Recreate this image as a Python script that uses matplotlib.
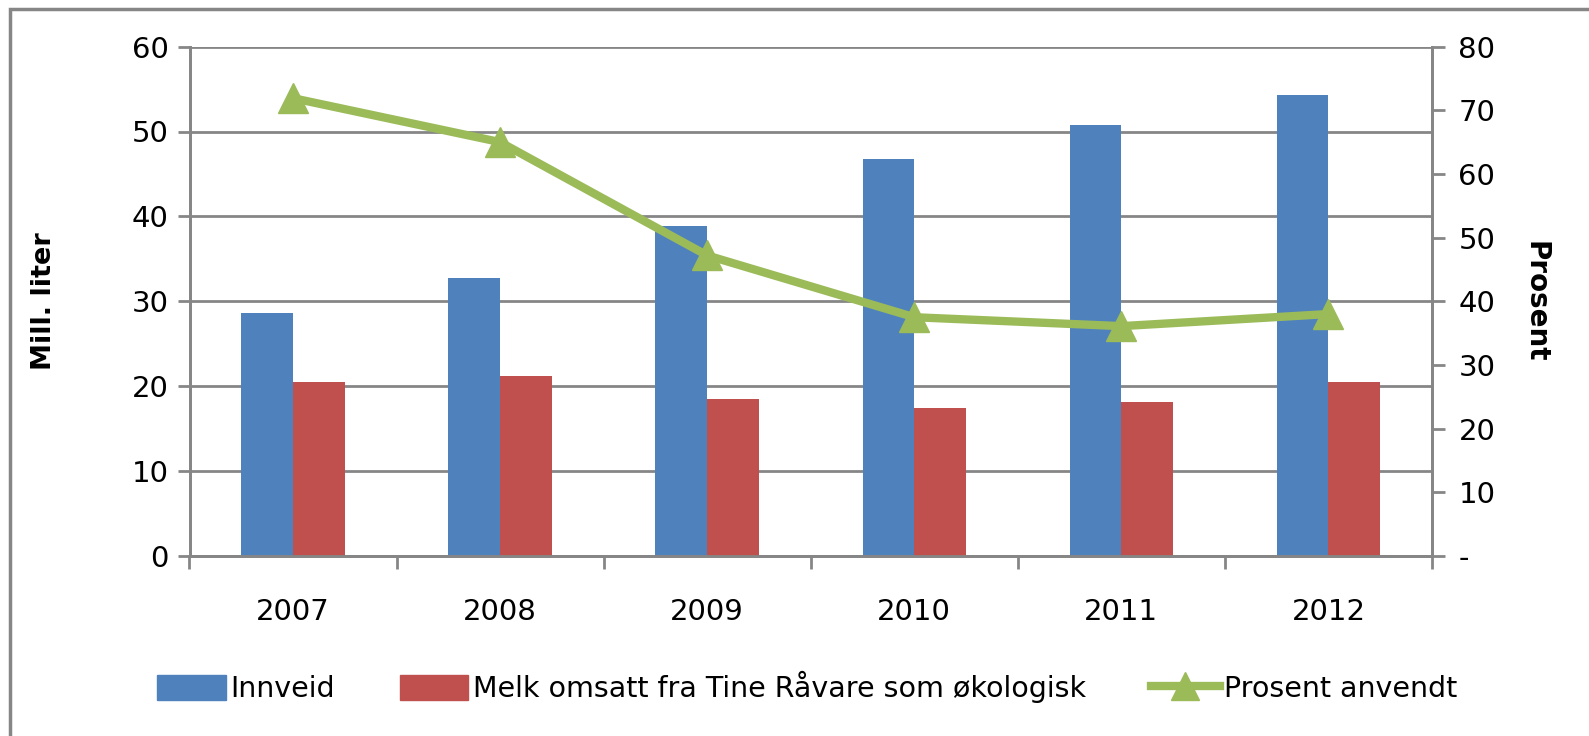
import matplotlib
matplotlib.use("Agg")
import matplotlib.pyplot as plt
import numpy as np
from matplotlib.lines import Line2D

years = ["2007", "2008", "2009", "2010", "2011", "2012"]
innveid = [28.6, 32.8, 38.9, 46.8, 50.8, 54.3]
melk = [20.5, 21.2, 18.5, 17.4, 18.1, 20.5]
prosent = [71.9, 65.0, 47.2, 37.5, 36.1, 38.0]
left_ticks = [0, 10, 20, 30, 40, 50, 60]
right_ticks = [0, 10, 20, 30, 40, 50, 60, 70, 80]
right_labels = ["-", "10", "20", "30", "40", "50", "60", "70", "80"]

BLUE = "#4F81BD"
RED = "#C0504D"
GREEN = "#9BBB59"
GREY = "#868686"

W, H = 1589, 736
fig = plt.figure(figsize=(W / 100, H / 100), dpi=100)
ax = fig.add_axes([189.5 / W, 1 - 556 / H, (1432 - 189.5) / W, (556 - 46.6) / H])

x = np.arange(len(years))
bw = 0.25
ax.bar(x - bw / 2, innveid, bw, color=BLUE, label="Innveid", zorder=3)
ax.bar(x + bw / 2, melk, bw, color=RED, label="Melk omsatt fra Tine Råvare som økologisk", zorder=3)

ax.set_xlim(-0.5, len(years) - 0.5)
ax.set_ylim(0, 60)
ax.set_yticks(left_ticks)
ax.set_yticklabels([str(t) for t in left_ticks])
ax.yaxis.grid(True, color=GREY, linewidth=2, zorder=0)
ax.set_axisbelow(True)
ax.set_xticks(x)
ax.set_xticklabels(years)
ax.set_xticks(np.arange(-0.5, len(years)), minor=True)
ax.tick_params(axis="x", which="major", length=0, pad=30, labelsize=21)
ax.tick_params(axis="x", which="minor", length=9, width=2, color=GREY, direction="out")
ax.tick_params(axis="y", length=9, width=2, color=GREY, direction="out", labelsize=21, pad=6)
ax.spines["top"].set_visible(False)
for s in ["left", "bottom", "right"]:
    ax.spines[s].set_color(GREY)
    ax.spines[s].set_linewidth(2)
ax.set_ylabel("Mill. liter", fontsize=19.5, fontweight="bold", labelpad=54)

ax2 = ax.twinx()
ax2.plot(x, prosent, color=GREEN, linewidth=6, marker="^", markersize=22,
         markerfacecolor=GREEN, markeredgecolor=GREEN, label="Prosent anvendt", zorder=5)
ax2.set_ylim(0, 80)
ax2.set_yticks(right_ticks)
ax2.set_yticklabels(right_labels)
ax2.tick_params(axis="y", length=9, width=2, color=GREY, direction="out", labelsize=21, pad=10)
ax2.spines["top"].set_visible(False)
for s in ["left", "bottom", "right"]:
    ax2.spines[s].set_color(GREY)
    ax2.spines[s].set_linewidth(2)
ax2.set_ylabel("Prosent", fontsize=20, fontweight="bold", rotation=270, labelpad=39)

# chart border (left and top visible)
fig.add_artist(plt.Rectangle((10 / W, -0.05), 1.2, 1 - 9 / H + 0.05, transform=fig.transFigure,
                             fill=False, edgecolor=GREY, linewidth=2.5))

handles = [plt.Rectangle((0, 0), 1, 1, color=BLUE),
           plt.Rectangle((0, 0), 1, 1, color=RED),
           Line2D([0], [0], color=GREEN, linewidth=6, marker="^", markersize=20)]
labels = ["Innveid", "Melk omsatt fra Tine Råvare som økologisk", "Prosent anvendt"]
fig.legend(handles, labels, loc="center", bbox_to_anchor=(0.508, 1 - 687 / H), ncol=3,
           frameon=False, prop={"family": ["DejaVu Sans"], "size": 20.5},
           handlelength=2.4, handleheight=1.0, handletextpad=0.15, columnspacing=2.3)

fig.savefig("out.png", dpi=100, facecolor="white")
